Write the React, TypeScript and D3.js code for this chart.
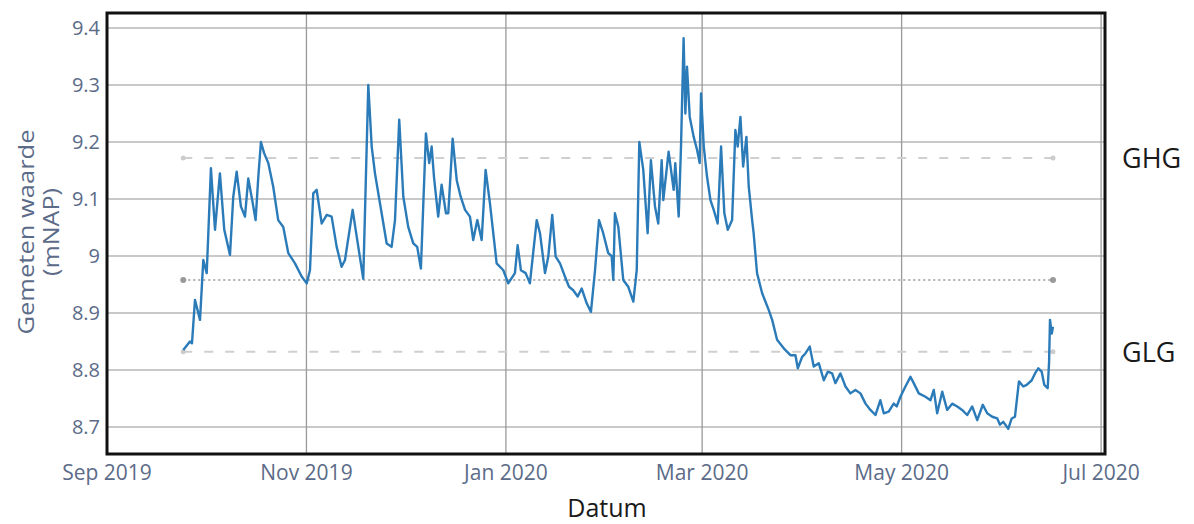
import React from 'react';
import * as d3 from 'd3';

const dates = [
"2019-09-24 08","2019-09-26 09","2019-09-27 00","2019-09-27 22","2019-09-29 11","2019-09-30 11","2019-10-01 12","2019-10-01 23","2019-10-02 19","2019-10-04 01",
"2019-10-05 13","2019-10-06 21","2019-10-08 15","2019-10-09 15","2019-10-10 16","2019-10-11 23","2019-10-13 05","2019-10-14 05","2019-10-15 10","2019-10-16 11",
"2019-10-17 06","2019-10-18 02","2019-10-19 02","2019-10-20 08","2019-10-21 20","2019-10-23 09","2019-10-24 22","2019-10-26 11","2019-10-28 12","2019-10-30 13",
"2019-11-01 02","2019-11-02 02","2019-11-03 02","2019-11-04 03","2019-11-05 16","2019-11-07 05","2019-11-08 17","2019-11-10 06","2019-11-11 18","2019-11-12 19",
"2019-11-15 03","2019-11-16 09","2019-11-18 09","2019-11-19 22","2019-11-20 23","2019-11-21 23","2019-11-23 12","2019-11-25 13","2019-11-27 01","2019-11-28 02",
"2019-11-29 09","2019-11-30 15","2019-12-02 03","2019-12-03 16","2019-12-04 21","2019-12-06 00","2019-12-07 13","2019-12-08 13","2019-12-09 07","2019-12-10 00",
"2019-12-11 07","2019-12-12 08","2019-12-13 16","2019-12-14 09","2019-12-15 17","2019-12-16 23","2019-12-18 04","2019-12-19 12","2019-12-21 00","2019-12-22 00",
"2019-12-23 06","2019-12-24 14","2019-12-25 19","2019-12-27 03","2019-12-29 04","2019-12-31 05","2020-01-01 17","2020-01-03 18","2020-01-04 14","2020-01-05 14",
"2020-01-07 01","2020-01-08 08","2020-01-10 10","2020-01-11 10","2020-01-12 23","2020-01-13 23","2020-01-15 04","2020-01-16 05","2020-01-17 13","2020-01-19 01",
"2020-01-20 07","2020-01-21 14","2020-01-22 23","2020-01-24 04","2020-01-25 17","2020-01-27 00","2020-01-28 06","2020-01-29 11","2020-01-30 18","2020-02-01 07",
"2020-02-02 08","2020-02-02 20","2020-02-03 08","2020-02-04 09","2020-02-05 21","2020-02-07 10","2020-02-08 23","2020-02-10 00","2020-02-10 19","2020-02-12 00",
"2020-02-13 08","2020-02-14 08","2020-02-15 14","2020-02-16 14","2020-02-17 15","2020-02-18 03","2020-02-19 18","2020-02-21 07","2020-02-21 19","2020-02-22 20",
"2020-02-23 13","2020-02-24 08","2020-02-24 21","2020-02-25 09","2020-02-26 05","2020-02-27 10","2020-02-28 11","2020-02-29 06","2020-02-29 16","2020-03-01 12",
"2020-03-02 12","2020-03-03 13","2020-03-04 13","2020-03-05 18","2020-03-06 19","2020-03-07 19","2020-03-08 20","2020-03-10 04","2020-03-11 04","2020-03-11 21",
"2020-03-12 17","2020-03-13 13","2020-03-14 13","2020-03-15 06","2020-03-16 07","2020-03-16 18","2020-03-17 19","2020-03-19 08","2020-03-21 09","2020-03-22 10",
"2020-03-23 22","2020-03-25 23","2020-03-28 00","2020-03-29 13","2020-03-30 06","2020-03-31 14","2020-04-01 14","2020-04-02 22","2020-04-04 03","2020-04-05 16",
"2020-04-07 05","2020-04-08 10","2020-04-09 18","2020-04-10 18","2020-04-12 07","2020-04-13 20","2020-04-15 08","2020-04-16 21","2020-04-18 10","2020-04-19 23",
"2020-04-21 11","2020-04-23 00","2020-04-24 12","2020-04-25 13","2020-04-27 01","2020-04-28 14","2020-04-29 12","2020-04-30 15","2020-05-02 04","2020-05-03 17",
"2020-05-04 17","2020-05-06 06","2020-05-08 07","2020-05-09 20","2020-05-10 20","2020-05-11 21","2020-05-13 10","2020-05-14 22","2020-05-16 11","2020-05-18 00",
"2020-05-19 12","2020-05-21 01","2020-05-22 14","2020-05-24 03","2020-05-25 20","2020-05-27 04","2020-05-28 17","2020-05-30 06","2020-05-31 02","2020-06-01 02",
"2020-06-02 15","2020-06-03 16","2020-06-04 16","2020-06-05 21","2020-06-07 05","2020-06-08 06","2020-06-09 19","2020-06-10 19","2020-06-11 19","2020-06-12 20",
"2020-06-13 15","2020-06-14 16","2020-06-15 02","2020-06-15 09","2020-06-15 22","2020-06-16 07"
];

const levels = [
8.835,8.850,8.847,8.923,8.888,8.993,8.970,9.034,9.154,9.046,
9.145,9.046,9.002,9.104,9.148,9.087,9.069,9.136,9.098,9.063,
9.136,9.200,9.180,9.163,9.122,9.063,9.051,9.005,8.987,8.964,
8.952,8.975,9.110,9.116,9.057,9.072,9.069,9.016,8.981,8.993,
9.081,9.034,8.960,9.300,9.192,9.145,9.092,9.022,9.016,9.063,
9.239,9.104,9.051,9.022,9.016,8.978,9.215,9.163,9.192,9.139,
9.069,9.125,9.075,9.075,9.206,9.133,9.104,9.081,9.069,9.028,
9.063,9.028,9.151,9.092,8.987,8.975,8.952,8.970,9.019,8.975,
8.970,8.952,9.063,9.040,8.970,8.999,9.072,8.999,8.987,8.964,
8.946,8.940,8.929,8.943,8.917,8.902,8.975,9.063,9.040,9.005,
9.000,8.958,9.075,9.051,8.958,8.946,8.920,8.975,9.200,9.151,
9.040,9.168,9.087,9.057,9.168,9.098,9.183,9.116,9.163,9.069,
9.192,9.382,9.250,9.332,9.244,9.209,9.186,9.163,9.285,9.192,
9.139,9.098,9.081,9.057,9.192,9.075,9.046,9.063,9.221,9.192,
9.244,9.157,9.209,9.122,9.063,9.040,8.970,8.935,8.905,8.888,
8.853,8.838,8.826,8.826,8.803,8.823,8.829,8.841,8.806,8.812,
8.782,8.797,8.794,8.777,8.794,8.771,8.759,8.765,8.759,8.741,
8.730,8.721,8.747,8.724,8.727,8.741,8.736,8.753,8.771,8.788,
8.777,8.759,8.753,8.747,8.765,8.724,8.762,8.730,8.741,8.736,
8.730,8.721,8.736,8.712,8.739,8.724,8.718,8.715,8.704,8.709,
8.697,8.715,8.718,8.780,8.771,8.774,8.782,8.794,8.803,8.797,
8.774,8.768,8.812,8.888,8.864,8.876
];

const yTicks = [8.7, 8.8, 8.9, 9.0, 9.1, 9.2, 9.3, 9.4];
const yTickLabels = ["8.7", "8.8", "8.9", "9", "9.1", "9.2", "9.3", "9.4"];
const xTickDates = ["2019-09-01", "2019-11-01", "2020-01-01", "2020-03-01", "2020-05-01", "2020-07-01"];
const xTickLabels = ["Sep 2019", "Nov 2019", "Jan 2020", "Mar 2020", "May 2020", "Jul 2020"];

const refNames = ["GHG", "", "GLG"];
const refValues = [9.172, 8.958, 8.832];
const refStyles = ["dash", "dot", "dash"];
const refStart = "2019-09-24 08";
const refEnd = "2020-06-16 07";

const parseT = d3.timeParse("%Y-%m-%d %H");
const parseD = d3.timeParse("%Y-%m-%d");

export default function App() {
  const W = 1194, H = 524;
  const left = 106, right = 1106, top = 13, bottom = 454;
  const x = d3.scaleTime()
    .domain([new Date(2019, 7, 31, 17), new Date(2020, 6, 2, 12)])
    .range([left, right]);
  const y = d3.scaleLinear().domain([8.7, 9.4]).range([427, 28]);

  const pts = dates.map((d, i) => [parseT(d) as Date, levels[i]] as [Date, number]);
  const line = d3.line<[Date, number]>().x(d => x(d[0])).y(d => y(d[1]));

  const tickColor = "#5b6b88";
  const font = "'Open Sans', 'DejaVu Sans', sans-serif";
  const xs = x(parseT(refStart) as Date);
  const xe = x(parseT(refEnd) as Date);

  return (
    <svg width={W} height={H} style={{ position: 'absolute', left: 0, top: 0, background: '#fff' }}>
      <rect x={0} y={0} width={W} height={H} fill="#fff" />
      {/* horizontal grid */}
      {yTicks.map((t, i) => (
        <line key={'hg' + i} x1={left} x2={right} y1={y(t)} y2={y(t)} stroke="#c9c9c9" strokeWidth={2} />
      ))}
      {/* vertical grid */}
      {xTickDates.map((t, i) => {
        const xx = x(parseD(t) as Date);
        return <line key={'vg' + i} x1={xx} x2={xx} y1={top} y2={bottom} stroke="#9a9a9a" strokeWidth={1.3} />;
      })}
      {/* reference lines */}
      {refValues.map((v, i) => (
        <g key={'ref' + i}>
          <line x1={xs} x2={xe} y1={y(v)} y2={y(v)}
            stroke={refStyles[i] === 'dot' ? '#b0b0b0' : '#cfcfcf'}
            strokeWidth={2}
            strokeDasharray={refStyles[i] === 'dot' ? '2,3' : '9,12'} />
          <circle cx={xs} cy={y(v)} r={refStyles[i] === 'dot' ? 3 : 2.5} fill={refStyles[i] === 'dot' ? '#999' : '#ccc'} />
          <circle cx={xe} cy={y(v)} r={refStyles[i] === 'dot' ? 3 : 2.5} fill={refStyles[i] === 'dot' ? '#999' : '#ccc'} />
        </g>
      ))}
      {/* data line */}
      <path d={line(pts) || ''} fill="none" stroke="#2b7bb9" strokeWidth={2.4} strokeLinejoin="round" />
      {/* frame */}
      <rect x={left + 1} y={top} width={right - left - 2} height={bottom - top} fill="none" stroke="#111" strokeWidth={3} />
      {/* y tick labels */}
      {yTicks.map((t, i) => (
        <text key={'yl' + i} x={100} y={y(t)} dy="0.35em" textAnchor="end" fontFamily={font} fontSize={20} fill={tickColor}>
          {yTickLabels[i]}
        </text>
      ))}
      {/* x tick labels */}
      {xTickDates.map((t, i) => (
        <text key={'xl' + i} x={x(parseD(t) as Date)} y={480} textAnchor="middle" fontFamily={font} fontSize={21} fill={tickColor}>
          {xTickLabels[i]}
        </text>
      ))}
      {/* axis titles */}
      <text x={(left + right) / 2 + 1} y={517} textAnchor="middle" fontFamily={font} fontSize={25} fill="#1a1a1a">Datum</text>
      <g transform="translate(34,232) rotate(-90)">
        <text x={0} y={0} textAnchor="middle" fontFamily={font} fontSize={22} fill={tickColor}
          textLength={205} lengthAdjust="spacingAndGlyphs">Gemeten waarde</text>
        <text x={0} y={25} textAnchor="middle" fontFamily={font} fontSize={22} fill={tickColor}
          textLength={88} lengthAdjust="spacingAndGlyphs">(mNAP)</text>
      </g>
      {/* reference labels */}
      {refValues.map((v, i) => refNames[i] ? (
        <text key={'rn' + i} x={1122} y={y(v) + 10} fontFamily={font} fontSize={27} fill="#1a1a1a">{refNames[i]}</text>
      ) : null)}
    </svg>
  );
}
